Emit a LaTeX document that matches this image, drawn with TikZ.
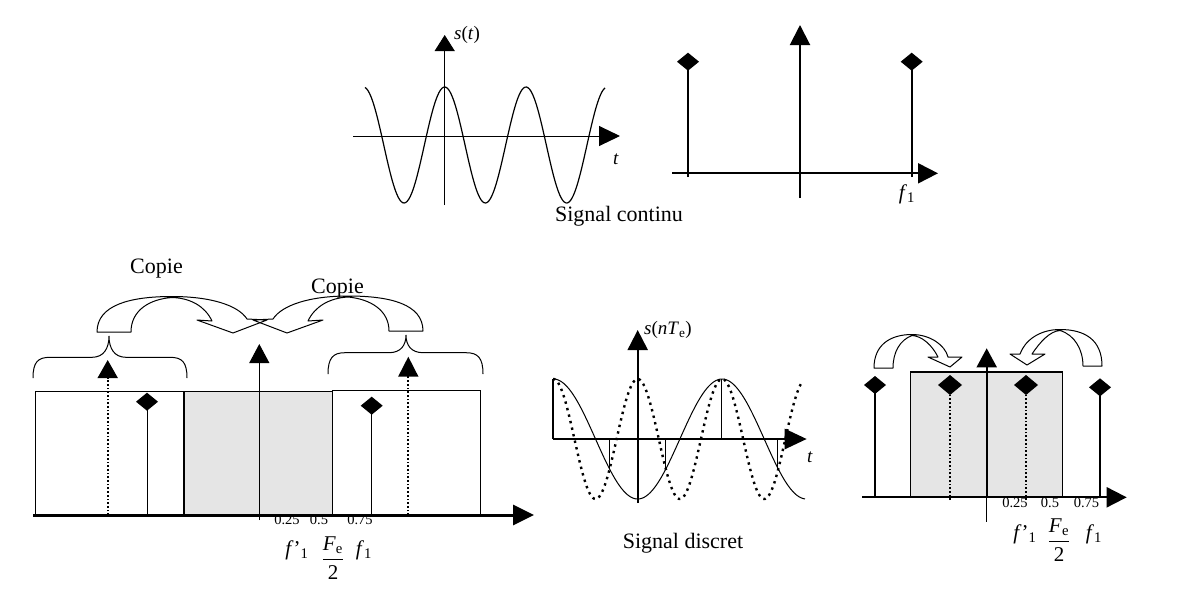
\documentclass[tikz,border=0pt]{standalone}
\usepackage{fontspec}
\setmainfont{Liberation Serif}
\usetikzlibrary{arrows.meta}
\begin{document}
\begin{tikzpicture}[x=1pt,y=-1pt, line width=1pt,
  tri/.style={-{Triangle[length=#1,width=20pt]}}, tri/.default=20pt,
  dotline/.style={line width=1.7pt,dash pattern=on 1.7pt off 2pt},
  sdot/.style={line width=2.4pt,dash pattern=on 2.4pt off 4.3pt},
  thick2/.style={line width=2pt},
  shade/.style={fill=black!10},
  blk/.style={draw=black,line width=1pt,line join=round},
  lbl/.style={font=\fontsize{22}{26}\selectfont, inner sep=0pt},
  ticklbl/.style={font=\fontsize{14.5}{16}\selectfont, inner sep=0pt},
  mth/.style={font=\fontsize{19}{22}\selectfont, inner sep=0pt},
  flbl/.style={font=\fontsize{21}{24}\selectfont, inner sep=0pt},
  diam/.pic={\fill (0,-9) -- (11,0) -- (0,9) -- (-11,0) -- cycle;},
  diamb/.pic={\fill (0,-10) -- (12,0) -- (0,10) -- (-12,0) -- cycle;},
]
\useasboundingbox (0,0) rectangle (1189,590);

% ---------- top left: continuous signal ----------
\draw[tri=16pt] (444.7,205) -- (444.7,35);
\draw[tri=21pt] (353,136) -- (620,136);
\draw[line width=1.2pt] plot[domain=365:605,samples=160,smooth] (\x,{145-58*cos((\x-444.7)/81.3*360)});
\node[mth] (st) at (467,35) {\textit{s}(\textit{t})};
\node[mth] (tt) at (616,159) {\textit{t}};

% ---------- top right: spectrum ----------
\draw[thick2, tri] (672,173.3) -- (938,173.3);
\draw[thick2, tri] (800,198) -- (800,25);
\draw[thick2] (688,177) -- (688,62);
\pic at (688,61.7) {diam};
\draw[thick2] (911.7,177) -- (911.7,62);
\pic at (911.7,61.7) {diam};
\node[flbl] (f1a) at (907,194) {\textit{f}\textsubscript{1}};
\node[lbl,anchor=base] (sc) at (619,221.7) {Signal continu};

% ---------- bottom left: spectrum with copies ----------
\draw (35.7,391.3) rectangle (184,515);
\fill[shade] (184,391.3) rectangle (332.3,515);
\draw (184,391.3) -- (332.3,391.3);
\draw[thick2] (184,391.3) -- (184,515);
\draw (332.3,390) rectangle (480,515);
\draw[line width=3pt, tri=21pt] (33,515) -- (534,515);
\draw[dotline, tri=18pt] (107.7,515) -- (107.7,360);
\draw (147,515) -- (147,402);
\pic at (147,401.7) {diam};
\draw[tri=19pt] (259.3,520) -- (259.3,344);
\draw (371.7,515) -- (371.7,406);
\pic at (371.7,405.7) {diam};
\draw[dotline, tri=20pt] (408.3,515) -- (408.3,356.7);

\node[ticklbl] (a25) at (287,520) {0.25};
\node[ticklbl] (a50) at (319,520) {0.5};
\node[ticklbl] (a75) at (360,520) {0.75};
\node[flbl] (fp1) at (297,550) {\textit{f}'\textsubscript{1}};
\node[flbl] (fe1) at (333,558) {$\displaystyle\frac{\mbox{\textit{F}\textsubscript{e}}}{\mbox{2}}$};
\node[flbl] (f1b) at (364,550) {\textit{f}\textsubscript{1}};

% braces
\draw (33,378) .. controls (33,362) and (38,357.3) .. (50,357.3) -- (92,357.3)
  .. controls (104,357.3) and (109,348) .. (109,336)
  .. controls (109,348) and (114,357.3) .. (126,357.3) -- (170,357.3)
  .. controls (182,357.3) and (187,362) .. (187,378);
\draw (328,374) .. controls (328,358) and (333,352.7) .. (345,352.7) -- (389,352.7)
  .. controls (401,352.7) and (406,345) .. (406,335)
  .. controls (406,345) and (411,352.7) .. (423,352.7) -- (466,352.7)
  .. controls (478,352.7) and (483,358) .. (483,374);

% curved block arrows
\draw[blk] (97,332) .. controls (97,305) and (130,296.5) .. (172,296.5)
  .. controls (210,296.5) and (238,305) .. (247,319) -- (267,320) -- (233,333) -- (197,320) -- (212,321)
  .. controls (205,306) and (190,298) .. (172,297.5)
  .. controls (150,299) and (131,310) .. (131,332) -- cycle;
\draw[blk] (423,331) .. controls (423,304) and (390,296) .. (348,296)
  .. controls (310,296) and (282,305) .. (273,319) -- (253,320) -- (287,333) -- (323,320) -- (308,321)
  .. controls (315,306) and (330,298) .. (348,297)
  .. controls (370,299) and (389,310) .. (389,331) -- cycle;
\node[lbl,anchor=base] (cp1) at (156.5,273) {Copie};
\node[lbl,anchor=base] (cp2) at (337.5,293) {Copie};

% ---------- bottom middle: discrete signal ----------
\draw[thick2, tri=20pt] (637.7,503) -- (637.7,330);
\draw[line width=2.7pt, tri=22pt] (552.7,439) -- (806.7,439);
\draw plot[domain=553:805,samples=160,smooth] (\x,{439+60*cos((\x-637.7)/168.7*360)});
\draw[sdot] plot[domain=553:803,samples=220,smooth] (\x,{439-60*cos((\x-637.7)/84.35*360)});
\draw[thick2] (553,439) -- (553,379);
\draw (609.2,439) -- (609.2,468.5);
\draw (665.5,439) -- (665.5,469.5);
\draw (721.7,439) -- (721.7,379);
\draw (777.9,439) -- (777.9,468);
\node[mth] (snt) at (668,330) {\textit{s}(\textit{nT}\textsubscript{e})};
\node[mth] (tb) at (810,457) {\textit{t}};
\node[lbl,anchor=base] (sd) at (683,548) {Signal discret};

% ---------- bottom right: aliased spectrum ----------
\fill[shade] (910,372.3) rectangle (1062.7,497.3);
\draw (910,372.3) rectangle (1062.7,497.3);
\draw[thick2] (910,372.3) -- (1062.7,372.3);
\draw[thick2, tri] (862,497.3) -- (1126.7,497.3);
\draw (986.7,521.7) -- (986.7,497);
\draw[thick2, tri=19pt] (986.7,497.3) -- (986.7,348.3);
\draw[thick2] (875,497.3) -- (875,385);
\pic at (875,385) {diam};
\draw[dotline] (950,500) -- (950,385);
\pic at (950,385) {diamb};
\draw[dotline] (1026,500) -- (1026,385);
\pic at (1026,385) {diamb};
\draw[thick2] (1100,497.3) -- (1100,387.3);
\pic at (1100,387.3) {diam};

\draw[blk] (874,368) .. controls (874,345) and (890,334.5) .. (912,334.5)
  .. controls (930,334.5) and (945,345) .. (948,357) -- (962,357) -- (950,367) -- (928,357) -- (938,357)
  .. controls (932,345) and (922,336) .. (912,335.5)
  .. controls (900,340) and (893,352) .. (893,368) -- cycle;
\draw[blk] (1102,366) .. controls (1102,340) and (1085,329.5) .. (1060,329.5)
  .. controls (1040,329.5) and (1025,340) .. (1020,354) -- (1010,354) -- (1027,365) -- (1045,354) -- (1032,354)
  .. controls (1040,342) and (1050,331) .. (1060,330.5)
  .. controls (1075,335) and (1083,350) .. (1083,366) -- cycle;

\node[ticklbl] (b25) at (1015,503) {0.25};
\node[ticklbl] (b50) at (1050,503) {0.5};
\node[ticklbl] (b75) at (1086.5,503) {0.75};
\node[flbl] (fp2) at (1025,534) {\textit{f}'\textsubscript{1}};
\node[flbl] (fe2) at (1059,540) {$\displaystyle\frac{\mbox{\textit{F}\textsubscript{e}}}{\mbox{2}}$};
\node[flbl] (f1c) at (1094,534) {\textit{f}\textsubscript{1}};
\end{tikzpicture}
\end{document}
